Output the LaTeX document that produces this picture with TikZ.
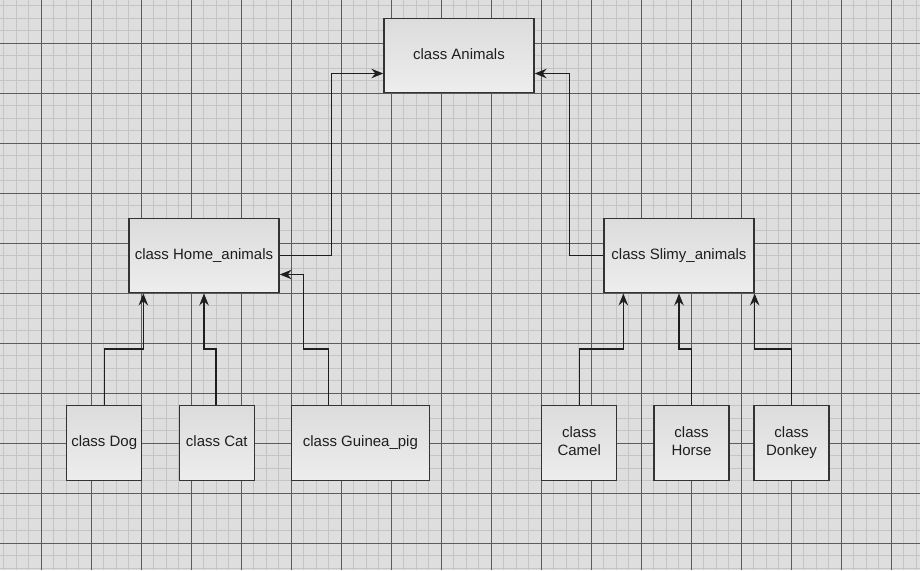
\documentclass[tikz,border=0pt]{standalone}
\usepackage{fontspec}
\setmainfont{Liberation Sans}
\usetikzlibrary{arrows.meta,calc}
\definecolor{bgc}{HTML}{DEDEDE}
\definecolor{minorc}{HTML}{C4C4C4}
\definecolor{majorc}{HTML}{5C5C5C}
\definecolor{edgec}{HTML}{333333}
\definecolor{linec}{HTML}{1E1E1E}
\definecolor{topc}{HTML}{DCDCDC}
\definecolor{botc}{HTML}{EDEDED}
\newcommand{\mystrut}{\rule[-3.6pt]{0pt}{14pt}}
\tikzset{
  cls/.style={draw=edgec, line width=1.3pt, top color=topc, bottom color=botc,
    inner sep=0pt, minimum height=74.6pt, text=linec, align=center,
    font=\fontsize{15}{17.7}\selectfont},
  wide/.style={cls, minimum width=150pt},
  small/.style={cls, minimum width=75pt},
  conn/.style={draw=linec, line width=1.4pt, -{Stealth[length=12pt,width=9.5pt,inset=4pt]}},
}
\begin{document}
\begin{tikzpicture}[x=1pt,y=-1pt]
\useasboundingbox (0,0) rectangle (920,570);
\fill[bgc] (0,0) rectangle (920,570);
\foreach \i in {0,...,73} {
  \draw[minorc, line width=1.3pt] ({3.8+12.5*\i},0) -- ({3.8+12.5*\i},570);
}
\foreach \i in {0,...,45} {
  \draw[minorc, line width=1.3pt] (0,{5.8+12.5*\i}) -- (920,{5.8+12.5*\i});
}
\foreach \i in {0,...,17} {
  \draw[majorc, line width=1pt] ({41.3+50*\i},0) -- ({41.3+50*\i},570);
}
\foreach \i in {0,...,10} {
  \draw[majorc, line width=1pt] (0,{43.3+50*\i}) -- (920,{43.3+50*\i});
}

\node[wide] (animals) at (459,55.5) {\mystrut class Animals};
\node[wide] (home) at (204,255.5) {\mystrut class Home\_animals};
\node[wide] (slimy) at (679,255.5) {\mystrut class Slimy\_animals};
\node[small] (dog) at (104.2,443) {\mystrut class Dog};
\node[small] (cat) at (216.8,443) {\mystrut class Cat};
\node[cls, minimum width=137.5pt] (guinea) at (360.4,443) {\mystrut class Guinea\_pig};
\node[small] (camel) at (579.2,443) {\mystrut class\\\mystrut Camel};
\node[small] (horse) at (691.5,443) {\mystrut class\\\mystrut Horse};
\node[small] (donkey) at (791.5,443) {\mystrut class\\\mystrut Donkey};

\draw[conn] (home.east) -- ++(52,0) |- ($(animals.west)+(0,18)$);
\draw[conn] (slimy.west) -- ++(-34,0) |- ($(animals.east)+(0,18)$);

\draw[conn] (dog.north) -- ++(0,-56) -| ($(home.south west)+(15,0)$);
\draw[conn] ($(cat.north)+(-0.8,0)$) -- ++(0,-56) -| (home.south);
\draw[conn] ($(guinea.north west)+(37.5,0)$) -- ++(0,-56) -- ++(-25,0) |- ($(home.east)+(0,19)$);

\draw[conn] (camel.north) -- ++(0,-56) -| ($(slimy.south west)+(20,0)$);
\draw[conn] (horse.north) -- ++(0,-56) -| (slimy.south);
\draw[conn] (donkey.north) -- ++(0,-56) -| (slimy.south east);
\end{tikzpicture}
\end{document}
